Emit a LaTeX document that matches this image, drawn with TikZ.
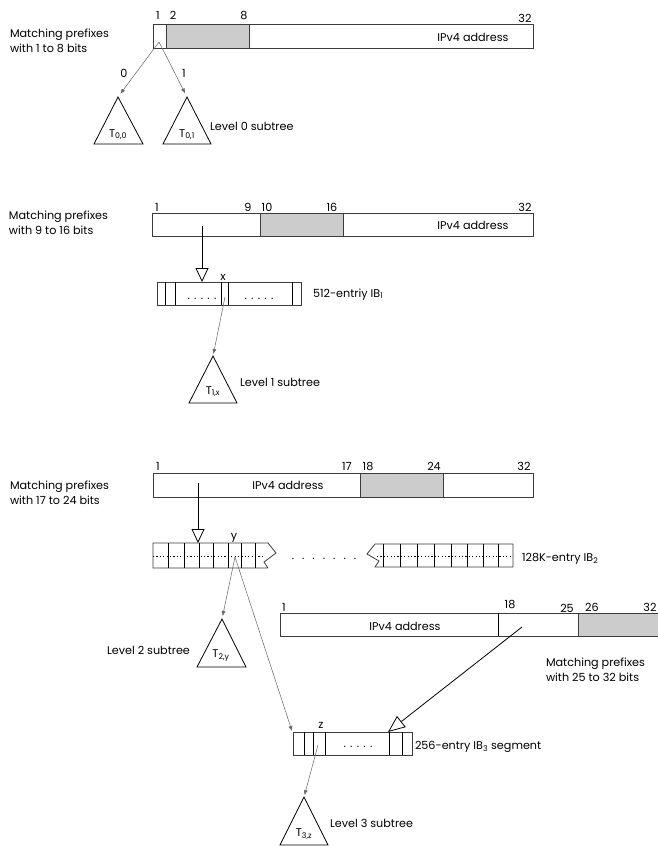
\documentclass[tikz,border=0pt]{standalone}
\usepackage{fontspec}
\setmainfont{Poppins}
\usetikzlibrary{arrows.meta}
\definecolor{linec}{RGB}{60,60,60}
\definecolor{arrc}{RGB}{100,100,100}
\definecolor{fillg}{RGB}{204,204,204}
\begin{document}
\begin{tikzpicture}[x=1pt,y=-1pt,
  cellbox/.style={draw=linec, line width=0.8pt, inner sep=0, outer sep=0, anchor=north west},
  graybox/.style={cellbox, fill=fillg},
  lbl/.style={font=\fontsize{11.2}{15}\selectfont, inner sep=0, outer sep=0, anchor=base west},
  clbl/.style={lbl, anchor=base},
  twolbl/.style={lbl, align=left},
  thinarrow/.style={draw=arrc, line width=0.5pt, -{Latex[length=5pt,width=4pt]}},
  openarrow/.style={draw=black, line width=0.8pt, -{Triangle[open,length=14pt,width=13pt,fill=white]}},
  bigopen/.style={draw=black, line width=0.8pt, -{Triangle[open,length=17pt,width=14pt,fill=white]}},
  tri/.style={draw=black, line width=0.8pt},
  sep/.style={draw=black, line width=0.8pt},
  dotl/.style={draw=black, line width=0.6pt, dash pattern=on 1.2pt off 2.2pt}
]
\useasboundingbox (0,0) rectangle (658,846);
\fill[white] (0,0) rectangle (658,846);

% ================= Section 1 =================
\node[cellbox, minimum width=380pt, minimum height=24pt] (bar1) at (153,24) {};
\node[graybox, minimum width=83pt, minimum height=24pt] (gray1) at (166,24) {};
\node[clbl] (ip1) at (473,41) {IPv4 address};
\node[clbl] (n1a) at (158,19) {1};
\node[clbl] (n1b) at (173,19) {2};
\node[clbl] (n1c) at (244,19) {8};
\node[clbl] (n1d) at (525,22) {32};
\node[twolbl] (mp1) at (10,52) {Matching prefixes\\with 1 to 8 bits};

\coordinate (c0) at (159,42);
\coordinate (t00) at (118,97);
\coordinate (t01) at (187,97);
\draw[thinarrow, shorten >=4pt] (c0) -- (t00);
\draw[thinarrow, shorten >=4pt] (c0) -- (t01);
\node[clbl] (b0) at (124,77) {0};
\node[clbl] (b1) at (184,77) {1};
\draw[tri] (t00) -- (94,144) -- (143,144) -- cycle;
\draw[tri] (t01) -- (163,144) -- (211,144) -- cycle;
\node[clbl] (T00) at (118,137) {T\textsubscript{0,0}};
\node[clbl] (T01) at (187,137) {T\textsubscript{0,1}};
\node[lbl] (lv0) at (210,130) {Level 0 subtree};

% ================= Section 2 =================
\node[cellbox, minimum width=381pt, minimum height=23pt] (bar2) at (152,213) {};
\node[graybox, minimum width=83pt, minimum height=23pt] (gray2) at (260,213) {};
\node[clbl] (ip2) at (473,229) {IPv4 address};
\node[clbl] (n2a) at (157,211) {1};
\node[clbl] (n2b) at (248,211) {9};
\node[clbl] (n2c) at (267,211) {10};
\node[clbl] (n2d) at (332,211) {16};
\node[clbl] (n2e) at (525,211) {32};
\node[twolbl] (mp2) at (9,234) {Matching prefixes\\with 9 to 16 bits};

\coordinate (s2) at (202,226);
\node[cellbox, minimum width=144pt, minimum height=23pt] (ib1) at (157,282) {};
\coordinate (ib1in) at (202,282);
\draw[openarrow] (s2) -- (ib1in);
\foreach \xx in {165,175,221,228,292} \draw[sep] (\xx,282) -- (\xx,305);
\node[clbl] (d1a) at (202,299) {.\hspace{4.3pt}.\hspace{4.3pt}.\hspace{4.3pt}.\hspace{4.3pt}.};
\node[clbl] (d1b) at (259,299) {.\hspace{4.3pt}.\hspace{4.3pt}.\hspace{4.3pt}.\hspace{4.3pt}.};
\node[clbl] (xl) at (223,280) {x};
\node[lbl] (ib1l) at (313,297) {512-entriy IB\textsubscript{1}};
\coordinate (cx) at (225,297);
\coordinate (t1x) at (213,356);
\draw[thinarrow, shorten >=2pt] (cx) -- (t1x);
\draw[tri] (t1x) -- (189,403) -- (237,403) -- cycle;
\node[clbl] (T1x) at (213,394) {T\textsubscript{1,x}};
\node[lbl] (lv1) at (240,386) {Level 1 subtree};

% ================= Section 3 =================
\node[cellbox, minimum width=380pt, minimum height=24pt] (bar3) at (153,473) {};
\node[graybox, minimum width=83pt, minimum height=24pt] (gray3) at (360,473) {};
\node[clbl] (ip3) at (288,489) {IPv4 address};
\node[clbl] (n3a) at (158,470) {1};
\node[clbl] (n3b) at (347,470) {17};
\node[clbl] (n3c) at (368,470) {18};
\node[clbl] (n3d) at (434,470) {24};
\node[clbl] (n3e) at (524,470) {32};
\node[twolbl] (mp3) at (10,504) {Matching prefixes\\with 17 to 24 bits};

\coordinate (s3) at (198,483);
\coordinate (ib2in) at (198,543);
% IB2 left part
\draw[linec, line width=0.8pt] (268,568) -- (153,568) -- (153,543) -- (268,543) -- (276,553) -- (264,562) -- (268,568);
\foreach \xx in {168,184,199,213,228,241,255} \draw[sep] (\xx,543) -- (\xx,568);
\draw[dotl] (153,556) -- (264,556);
\draw[openarrow] (s3) -- (ib2in);
\node[clbl] (yl) at (234,539) {y};
\node[clbl] (mdots) at (324,559) {.\hspace{8pt}.\hspace{8pt}.\hspace{8pt}.\hspace{8pt}.\hspace{8pt}.\hspace{8pt}.};
% IB2 right part
\draw[linec, line width=0.8pt] (375,544) -- (513,544) -- (513,567) -- (375,567) -- (379,561) -- (367,554) -- (375,544);
\foreach \xx in {383,400,417,434,451,467,483,498} \draw[sep] (\xx,544) -- (\xx,567);
\draw[dotl] (377,556) -- (513,556);
\node[lbl] (ib2l) at (522,561) {128K-entry IB\textsubscript{2}};

\coordinate (cy) at (235,557);
\coordinate (t2y) at (222,619);
\draw[thinarrow, shorten >=3pt] (cy) -- (t2y);
\draw[tri] (t2y) -- (197,667) -- (246,667) -- cycle;
\node[clbl] (T2y) at (221,657) {T\textsubscript{2,y}};
\node[lbl] (lv2) at (107,654) {Level 2 subtree};

% ================= Section 4 (25-32) =================
\node[cellbox, minimum width=400pt, minimum height=23pt] (bar4) at (280,613) {};
\node[graybox, minimum width=100pt, minimum height=23pt] (gray4) at (578,613) {};
\draw[sep] (498,613) -- (498,636);
\node[clbl] (ip4) at (405,630) {IPv4 address};
\node[clbl] (n4a) at (284,611) {1};
\node[clbl] (n4b) at (510,608) {18};
\node[clbl] (n4c) at (567,612) {25};
\node[clbl] (n4d) at (592,611) {26};
\node[clbl] (n4e) at (650,611) {32};
\node[twolbl] (mp4) at (546,681) {Matching prefixes\\with 25 to 32 bits};

\node[cellbox, minimum width=119pt, minimum height=23pt] (ib3) at (293,732) {};
\foreach \xx in {304,313,325,389,402} \draw[sep] (\xx,732) -- (\xx,755);
\node[clbl] (d3) at (358,747) {.\hspace{4.3pt}.\hspace{4.3pt}.\hspace{4.3pt}.\hspace{4.3pt}.};
\node[clbl] (zl) at (321,728) {z};
\node[lbl] (ib3l) at (415,749) {256-entry IB\textsubscript{3} segment};

\coordinate (s4) at (522,627);
\coordinate (ib3in) at (388,732);
\draw[bigopen] (s4) -- (ib3in);
\coordinate (ib3tl) at (292,731);
\draw[thinarrow] (cy) -- (ib3tl);

\coordinate (cz) at (318,745);
\coordinate (t3z) at (304,797);
\draw[thinarrow, shorten >=2pt] (cz) -- (t3z);
\draw[tri] (t3z) -- (280,845) -- (328,845) -- cycle;
\node[clbl] (T3z) at (304,836) {T\textsubscript{3,z}};
\node[lbl] (lv3) at (330,827) {Level 3 subtree};
\end{tikzpicture}
\end{document}
